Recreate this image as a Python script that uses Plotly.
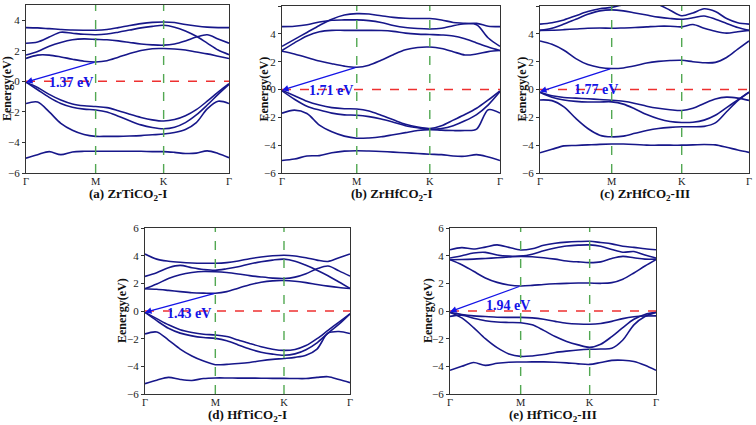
import plotly.graph_objects as go

# ---------------- data ----------------
HS_LABELS = ["Γ", "M", "K", "Γ"]
HS_POS = [0.0, 0.343, 0.678, 1.0]
SEG_FRAC = [0, 1/6, 2/6, 3/6, 4/6, 5/6, 1]

PANEL_TITLES = ["(a) ZrTiCO<sub>2</sub>-I", "(b) ZrHfCO<sub>2</sub>-I", "(c) ZrHfCO<sub>2</sub>-III",
                "(d) HfTiCO<sub>2</sub>-I", "(e) HfTiCO<sub>2</sub>-III"]
GAP_TEXT = ["1.37 eV", "1.71 eV", "1.77 eV", "1.43 eV", "1.94 eV"]
VBM = [-0.05, -0.05, -0.15, -0.10, -0.05]
CBM = [1.27, 1.60, 1.51, 1.28, 1.81]
Y_MAX = [5, 6, 6, 6, 6]
Y_TICKS = [-6, -4, -2, 0, 2, 4, 6]

BANDS_A = [
    [1.50, 1.72, 1.72, 1.60, 1.45, 1.32, 1.27, 1.35, 1.58, 1.82, 2.02, 2.14, 2.15, 2.12, 2.05, 1.92, 1.80, 1.65, 1.50],
    [1.72, 1.95, 2.30, 2.55, 2.72, 2.78, 2.75, 2.72, 2.65, 2.55, 2.45, 2.39, 2.37, 2.45, 2.65, 2.90, 3.05, 2.78, 2.50],
    [2.50, 2.58, 2.90, 3.22, 3.15, 3.08, 3.05, 3.10, 3.22, 3.36, 3.50, 3.60, 3.67, 3.55, 3.30, 2.95, 2.50, 2.05, 1.75],
    [3.52, 3.50, 3.45, 3.40, 3.36, 3.35, 3.35, 3.40, 3.52, 3.66, 3.78, 3.86, 3.89, 3.85, 3.72, 3.62, 3.55, 3.52, 3.52],
    [-0.05, -0.40, -0.85, -1.22, -1.48, -1.60, -1.65, -1.72, -1.92, -2.15, -2.36, -2.52, -2.60, -2.50, -2.25, -1.85, -1.30, -0.70, -0.15],
    [-0.05, -0.55, -1.05, -1.45, -1.70, -1.82, -1.87, -2.00, -2.28, -2.58, -2.85, -3.02, -3.10, -3.00, -2.70, -2.20, -1.55, -0.85, -0.20],
    [-1.45, -1.35, -2.00, -2.75, -3.20, -3.48, -3.60, -3.60, -3.60, -3.58, -3.55, -3.50, -3.45, -3.35, -3.15, -2.70, -1.80, -1.30, -1.45],
    [-5.03, -4.80, -4.60, -4.80, -4.62, -4.58, -4.58, -4.58, -4.58, -4.58, -4.58, -4.60, -4.60, -4.65, -4.72, -4.70, -4.55, -4.72, -5.00],
]
BANDS_B = [
    [2.75, 2.55, 2.30, 2.05, 1.85, 1.68, 1.60, 1.75, 2.10, 2.50, 2.85, 3.02, 3.05, 2.95, 2.72, 2.48, 2.55, 2.72, 2.80],
    [2.80, 3.35, 3.85, 4.15, 4.25, 4.25, 4.25, 4.25, 4.24, 4.18, 4.05, 3.98, 3.95, 3.92, 3.85, 3.65, 3.35, 3.05, 2.80],
    [3.10, 3.60, 4.10, 4.60, 5.05, 5.35, 5.45, 5.42, 5.30, 5.18, 5.12, 5.10, 5.10, 5.00, 4.82, 4.75, 4.65, 3.70, 3.10],
    [4.52, 4.55, 4.65, 4.85, 4.98, 5.00, 5.00, 4.95, 4.82, 4.60, 4.45, 4.38, 4.35, 4.40, 4.58, 4.72, 4.75, 4.55, 4.52],
    [-0.05, -0.45, -0.85, -1.12, -1.30, -1.38, -1.40, -1.55, -1.85, -2.18, -2.50, -2.70, -2.80, -2.60, -2.20, -1.80, -1.35, -0.75, -0.10],
    [-0.10, -0.70, -1.20, -1.48, -1.70, -1.82, -1.85, -1.95, -2.12, -2.35, -2.60, -2.75, -2.85, -2.80, -2.60, -2.25, -1.80, -1.10, -0.15],
    [-1.70, -1.48, -1.72, -2.56, -3.04, -3.35, -3.50, -3.48, -3.40, -3.25, -3.10, -2.95, -2.88, -2.92, -2.95, -2.95, -2.85, -1.45, -1.70],
    [-5.10, -5.00, -4.78, -4.75, -4.55, -4.43, -4.40, -4.42, -4.45, -4.50, -4.55, -4.60, -4.65, -4.68, -4.78, -4.80, -4.68, -4.85, -5.10],
]
BANDS_C = [
    [3.49, 3.25, 2.82, 2.22, 1.79, 1.58, 1.51, 1.55, 1.70, 1.90, 2.02, 2.08, 2.10, 2.00, 1.92, 1.95, 2.30, 2.90, 3.49],
    [4.25, 4.26, 4.30, 4.35, 4.40, 4.42, 4.40, 4.42, 4.45, 4.50, 4.55, 4.55, 4.50, 4.67, 4.40, 4.18, 4.05, 4.15, 4.25],
    [4.25, 4.40, 4.70, 5.05, 5.40, 5.65, 5.72, 5.65, 5.50, 5.35, 5.20, 5.10, 5.05, 5.15, 5.28, 5.05, 4.75, 4.45, 4.25],
    [4.70, 4.80, 5.00, 5.30, 5.60, 5.80, 5.90, 6.10, 6.30, 6.30, 6.10, 5.70, 5.30, 5.50, 5.80, 5.60, 5.10, 4.80, 4.70],
    [-0.20, -0.45, -0.57, -0.62, -0.67, -0.72, -0.77, -0.85, -1.00, -1.20, -1.35, -1.45, -1.51, -1.35, -1.00, -0.68, -0.55, -0.62, -0.78],
    [-0.20, -0.55, -0.75, -0.85, -0.90, -0.90, -0.89, -1.05, -1.40, -1.80, -2.10, -2.30, -2.37, -2.35, -2.20, -1.85, -1.30, -0.75, -0.20],
    [-0.75, -0.80, -1.25, -2.08, -2.80, -3.28, -3.40, -3.35, -3.15, -2.95, -2.80, -2.72, -2.68, -2.68, -2.65, -2.40, -1.60, -0.80, -0.20],
    [-4.55, -4.30, -4.05, -4.02, -3.98, -3.94, -3.92, -3.92, -3.95, -4.00, -4.00, -4.00, -4.00, -3.98, -3.95, -3.98, -4.15, -4.35, -4.52],
]
BANDS_D = [
    [1.61, 1.57, 1.49, 1.40, 1.32, 1.29, 1.28, 1.40, 1.65, 1.90, 2.08, 2.18, 2.20, 2.15, 2.05, 1.92, 1.80, 1.70, 1.63],
    [1.61, 1.95, 2.35, 2.62, 2.78, 2.86, 2.84, 2.78, 2.68, 2.56, 2.46, 2.38, 2.35, 2.45, 2.70, 3.05, 3.25, 2.90, 2.52],
    [2.50, 2.77, 3.13, 3.30, 3.13, 3.00, 2.94, 3.05, 3.20, 3.40, 3.56, 3.68, 3.75, 3.60, 3.30, 2.95, 2.55, 2.10, 1.63],
    [4.12, 3.75, 3.60, 3.52, 3.47, 3.45, 3.45, 3.50, 3.62, 3.78, 3.90, 3.99, 4.03, 3.98, 3.85, 3.68, 3.58, 3.85, 4.12],
    [-0.10, -0.55, -1.00, -1.35, -1.55, -1.68, -1.73, -1.85, -2.10, -2.35, -2.58, -2.76, -2.85, -2.78, -2.50, -2.00, -1.40, -0.80, -0.20],
    [-0.10, -0.70, -1.25, -1.60, -1.80, -1.92, -1.98, -2.15, -2.45, -2.75, -2.98, -3.12, -3.20, -3.10, -2.80, -2.30, -1.60, -0.95, -0.20],
    [-1.66, -1.52, -2.10, -2.75, -3.25, -3.62, -3.88, -3.86, -3.80, -3.72, -3.60, -3.50, -3.43, -3.35, -3.20, -2.75, -1.60, -1.48, -1.63],
    [-5.25, -5.00, -4.80, -4.95, -5.02, -4.88, -4.84, -4.84, -4.85, -4.85, -4.86, -4.87, -4.87, -4.88, -4.88, -4.80, -4.75, -4.95, -5.18],
]
BANDS_E = [
    [3.71, 3.35, 2.87, 2.39, 2.07, 1.88, 1.81, 1.85, 1.92, 1.97, 2.00, 2.02, 2.02, 2.00, 2.05, 2.30, 2.75, 3.25, 3.71],
    [3.71, 3.72, 3.75, 3.80, 3.85, 3.90, 3.95, 3.92, 3.85, 3.75, 3.62, 3.55, 3.50, 3.55, 3.80, 3.95, 3.85, 3.75, 3.75],
    [3.83, 4.00, 4.19, 4.24, 4.05, 3.97, 3.97, 4.10, 4.35, 4.55, 4.70, 4.76, 4.78, 4.68, 4.45, 4.25, 4.30, 4.05, 3.83],
    [4.43, 4.58, 4.48, 4.62, 4.78, 4.60, 4.41, 4.50, 4.75, 4.90, 4.98, 5.02, 5.04, 4.95, 4.85, 4.68, 4.60, 4.50, 4.43],
    [-0.10, -0.25, -0.35, -0.40, -0.45, -0.46, -0.46, -0.50, -0.60, -0.75, -0.88, -0.94, -0.96, -0.90, -0.75, -0.55, -0.42, -0.36, -0.35],
    [-0.39, -0.30, -0.52, -0.70, -0.80, -0.83, -0.85, -1.00, -1.40, -1.85, -2.20, -2.45, -2.63, -2.40, -1.85, -1.20, -0.60, -0.25, -0.10],
    [-0.10, -0.50, -1.20, -2.00, -2.65, -3.10, -3.28, -3.25, -3.15, -3.00, -2.90, -2.82, -2.77, -2.75, -2.70, -2.10, -1.00, -0.40, -0.10],
    [-4.29, -4.00, -3.72, -3.93, -3.78, -3.70, -3.69, -3.68, -3.68, -3.70, -3.75, -3.82, -3.86, -3.72, -3.57, -3.56, -3.65, -3.92, -4.29],
]
ALL_BANDS = [BANDS_A, BANDS_B, BANDS_C, BANDS_D, BANDS_E]

# ---------------- layout (pixels of 756x425 canvas) ----------------
W, H = 756, 425
PLOT_PX = [(26, 229, 5, 173), (282, 500, 6, 173), (540, 749, 6, 173),
           (145, 350, 228, 394), (450, 656, 228, 394)]
TITLE_Y = [195, 195, 195, 415, 415]
YLAB_X = [7, 263, 521, 122, 428]
LABEL_K = [0.22, 0.225, 0.266, 0.215, 0.28]
LABEL_E = [-0.1, -0.05, 0.0, -0.2, 0.38]

FONT = "Liberation Serif"
BAND_COLOR = "#17178a"
ARROW_COLOR = "#1414e6"

kgrid = []
for i in range(3):
    for j, f in enumerate(SEG_FRAC):
        if i > 0 and j == 0:
            continue
        kgrid.append(HS_POS[i] + f * (HS_POS[i + 1] - HS_POS[i]))

fig = go.Figure()
annotations = []
shapes = []

for p in range(5):
    xa = "x" if p == 0 else f"x{p+1}"
    ya = "y" if p == 0 else f"y{p+1}"
    xl, xr, yt, yb = PLOT_PX[p]
    dom_x = [xl / W, xr / W]
    dom_y = [1 - yb / H, 1 - yt / H]
    axis_common = dict(showline=True, mirror=True, linecolor="#333", linewidth=1,
                       showgrid=False, zeroline=False, automargin=False)
    fig.layout[f"xaxis{'' if p == 0 else p+1}"] = dict(
        domain=dom_x, anchor=ya, range=[0, 1], tickvals=HS_POS, ticktext=HS_LABELS,
        ticks="", ticklabelstandoff=-2, tickfont=dict(family=FONT, size=10.5, color="#222"),
        **axis_common)
    fig.layout[f"yaxis{'' if p == 0 else p+1}"] = dict(
        domain=dom_y, anchor=xa, range=[-6, Y_MAX[p]], tickvals=[t for t in Y_TICKS if t <= Y_MAX[p]],
        ticks="outside", ticklen=3, tickcolor="#333",
        tickfont=dict(family=FONT, size=11, color="#222"), **axis_common)

    for band in ALL_BANDS[p]:
        fig.add_trace(go.Scatter(x=kgrid, y=band, xaxis=xa, yaxis=ya, mode="lines",
                                 line=dict(color=BAND_COLOR, width=1.6, shape="spline", smoothing=0.9),
                                 showlegend=False, hoverinfo="skip"))

    # vertical dashed lines at M and K
    for kx in HS_POS[1:3]:
        shapes.append(dict(type="line", xref=xa, yref=f"{ya} domain", x0=kx, x1=kx, y0=0, y1=1,
                           line=dict(color="#52a852", width=1.4, dash="dash"), layer="above"))
    # Fermi level
    shapes.append(dict(type="line", xref=f"{xa} domain", yref=ya, x0=0, x1=1, y0=0, y1=0,
                       line=dict(color="#ee3030", width=1.5, dash="dash"), layer="above"))

    # gap arrow
    annotations.append(dict(x=HS_POS[0], y=VBM[p], ax=HS_POS[1], ay=CBM[p], xref=xa, yref=ya,
                            axref=xa, ayref=ya, showarrow=True, arrowhead=2, arrowsize=1,
                            arrowwidth=1.3, arrowcolor=ARROW_COLOR, text=""))
    annotations.append(dict(x=LABEL_K[p], y=LABEL_E[p], xref=xa, yref=ya, showarrow=False,
                            text=f"<b>{GAP_TEXT[p]}</b>",
                            font=dict(family=FONT, size=14, color=ARROW_COLOR)))
    # panel title
    annotations.append(dict(x=(xl + xr) / 2 / W, y=1 - TITLE_Y[p] / H, xref="paper", yref="paper",
                            showarrow=False, text=f"<b>{PANEL_TITLES[p]}</b>",
                            xanchor="center", yanchor="middle",
                            font=dict(family=FONT, size=13, color="#111")))
    # y axis title
    annotations.append(dict(x=YLAB_X[p] / W, y=1 - (yt + yb) / 2 / H, xref="paper", yref="paper",
                            showarrow=False, text="<b>Eenergy(eV)</b>", textangle=-90,
                            xanchor="center", yanchor="middle",
                            font=dict(family=FONT, size=12, color="#111")))

fig.update_layout(width=W, height=H, margin=dict(l=0, r=0, t=0, b=0),
                  paper_bgcolor="white", plot_bgcolor="white",
                  annotations=annotations, shapes=shapes, showlegend=False)

fig.write_html("out.html", config={"displayModeBar": False},
               post_script="document.body.style.margin='0';document.body.style.overflow='hidden';")
